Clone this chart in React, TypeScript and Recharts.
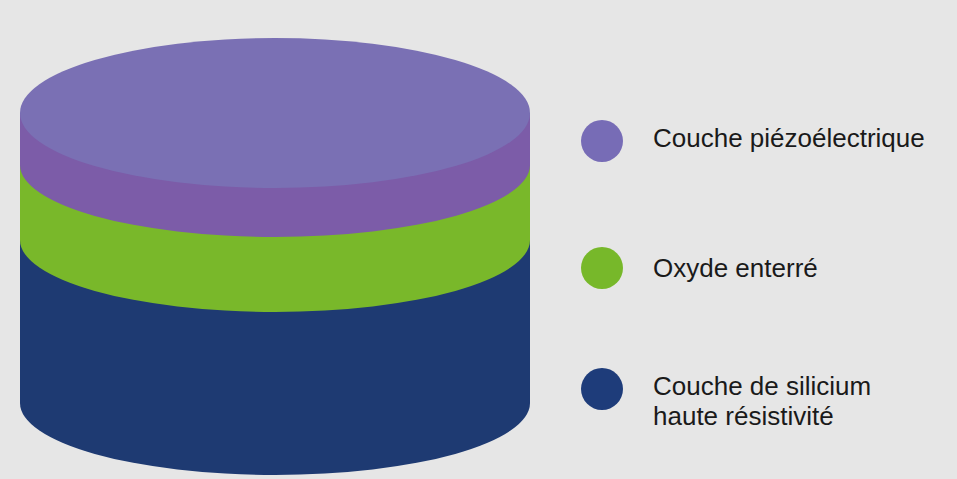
import React from "react";
import { BarChart, Bar, XAxis, YAxis } from "recharts";

// Layers of the stack, top to bottom (relative thickness)
const layerKeys = ["piezo", "oxide", "silicon"];
const layerNames = [
  "Couche piézoélectrique",
  "Oxyde enterré",
  "Couche de silicium\nhaute résistivité",
];
const layerThickness = [52, 75, 163];
const stackName = ["Plaquette"];

const sideColors = ["#7c5ca8", "#79b82a", "#1e3a72"];
const legendColors = ["#776cb6", "#77b82a", "#1e3c7a"];
const topColor = "#7a70b4";

const data = stackName.map((n) => {
  const row: any = { name: n };
  layerKeys.forEach((k, i) => (row[k] = layerThickness[i]));
  return row;
});
const total = layerThickness.reduce((a, b) => a + b, 0);

const RY = 72;
const TOP_RY = 75;

function makeShape(fill: string, isTop: boolean) {
  return (props: any) => {
    const { x, y, width, height } = props;
    const rx = width / 2;
    const d = `M ${x} ${y} L ${x} ${y + height} A ${rx} ${RY} 0 0 0 ${x + width} ${y + height} L ${x + width} ${y} Z`;
    return (
      <g>
        <path d={d} fill={fill} />
        {isTop && <ellipse cx={x + rx} cy={y} rx={rx} ry={TOP_RY} fill={topColor} />}
      </g>
    );
  };
}

const legendTops = [123, 253, 371];
const legendCircleY = [141, 268, 389];

export default function App() {
  // draw bottom layer first so upper layers overlap
  const order = [2, 1, 0];
  return (
    <div
      style={{
        position: "absolute",
        left: 0,
        top: 0,
        width: 957,
        height: 479,
        background: "#e6e6e6",
        overflow: "hidden",
        fontFamily: "'Liberation Sans', Arial, sans-serif",
      }}
    >
      <BarChart
        width={957}
        height={479}
        data={data}
        margin={{ top: 113, right: 427, bottom: 76, left: 20 }}
        barCategoryGap={0}
        barGap={0}
      >
        <XAxis dataKey="name" hide padding={{ left: 0, right: 0 }} />
        <YAxis hide domain={[0, total]} />
        {order.map((i) => (
          <Bar
            key={layerKeys[i]}
            dataKey={layerKeys[i]}
            name={layerNames[i]}
            stackId="stack"
            fill={sideColors[i]}
            isAnimationActive={false}
            shape={makeShape(sideColors[i], i === 0)}
          />
        ))}
      </BarChart>
      {layerNames.map((n, i) => (
        <React.Fragment key={n}>
          <div
            style={{
              position: "absolute",
              left: 581,
              top: legendCircleY[i] - 21,
              width: 42,
              height: 42,
              borderRadius: "50%",
              background: legendColors[i],
            }}
          />
          <div
            style={{
              position: "absolute",
              left: 653,
              top: legendTops[i],
              fontSize: 26,
              lineHeight: "30px",
              color: "#1a1a1a",
              whiteSpace: "pre-line",
            }}
          >
            {n}
          </div>
        </React.Fragment>
      ))}
    </div>
  );
}
